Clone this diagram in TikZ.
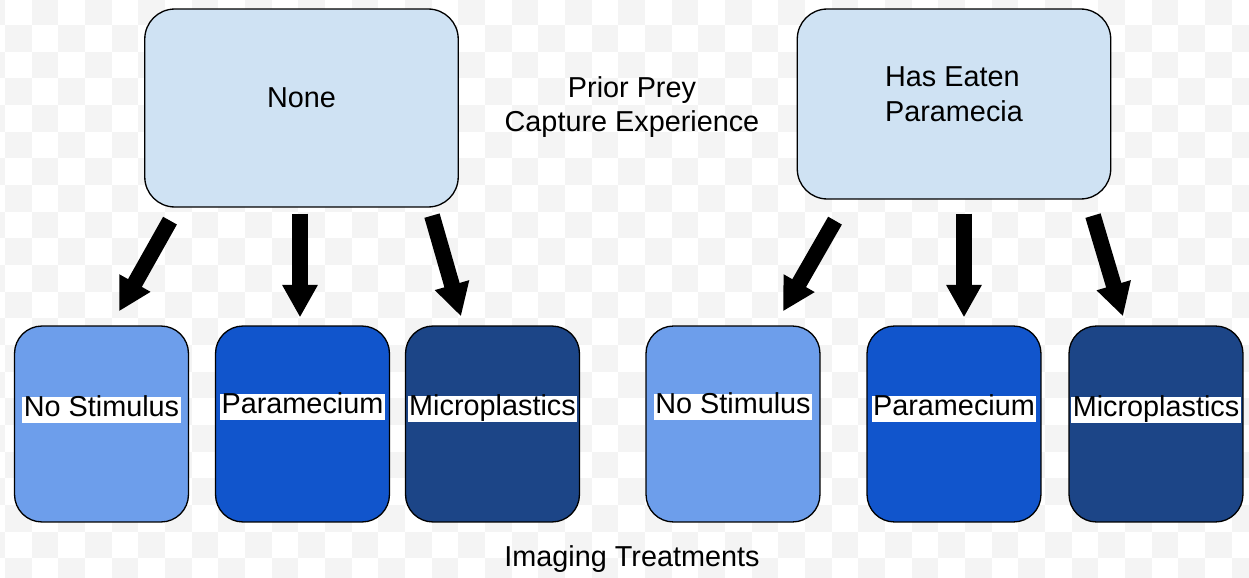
\documentclass[tikz,border=0pt]{standalone}
\usepackage{fontspec}
\setmainfont{Liberation Sans}
\usepackage{xcolor}
\definecolor{priorblue}{HTML}{CFE2F3}
\definecolor{nostimblue}{HTML}{6D9EEB}
\definecolor{paramblue}{HTML}{1155CC}
\definecolor{microblue}{HTML}{1C4587}
\definecolor{checkgray}{RGB}{244,244,244}
\usepackage{tikz}
\usetikzlibrary{arrows.meta,positioning,calc}

\begin{document}
\begin{tikzpicture}[
    x=0.02cm, y=-0.02cm,
    font=\fontsize{16.4}{19.8}\selectfont,
    prior/.style={rectangle, draw=black, line width=0.75pt, fill=priorblue, rounded corners=0.6cm, minimum width=6.27cm, align=left, text depth=0.4cm},
    treat/.style={rectangle, draw=black, line width=0.75pt, rounded corners=0.55cm, minimum width=3.48cm, minimum height=3.92cm},
    tag/.style={rectangle, fill=white, inner xsep=0.8pt, inner ysep=1.2pt, text height=0.98em, text depth=0.24em},
    caption/.style={align=center, text depth=0pt},
    bigarrow/.style={-{Triangle[length=18.5pt,width=19pt]}, line width=9pt, black}
]
\useasboundingbox (0,0) rectangle (1249,578);

% Checkered background
\begin{scope}
\clip (0,0) rectangle (1249,578);
\foreach \i in {-1,...,46} {
  \foreach \j in {0,...,22} {
    \pgfmathtruncatemacro\odd{mod(\i+\j+2,2)}
    \ifnum\odd=1
      \fill[checkgray] (5+26.67*\i,-1.7+26.67*\j) rectangle ++(26.67,26.67);
    \fi
  }
}
\end{scope}

% Prior experience
\node[prior, minimum height=3.96cm] (none) at (301.5,108) {None};
\node[prior, minimum height=3.8cm] (eaten) at (954,104) {Has Eaten\\Paramecia};
\node[caption] (prior) at (632,104) {Prior Prey\\Capture Experience};

% Treatments, left group
\node[treat, fill=nostimblue] (nsL) at (101.5,424) {};
\node[treat, fill=paramblue] (parL) at (302.5,424) {};
\node[treat, fill=microblue] (micL) at (492.5,424) {};

% Treatments, right group
\node[treat, fill=nostimblue] (nsR) at (733,424) {};
\node[treat, fill=paramblue] (parR) at (954,424) {};
\node[treat, fill=microblue] (micR) at (1156,424) {};

% Tags
\node[tag] (nsLt) at ($(nsL)+(0,-14)$) {No Stimulus};
\node[tag] (parLt) at ($(parL)+(0,-17)$) {Paramecium};
\node[tag] (micLt) at ($(micL)+(0,-15)$) {Microplastics};
\node[tag] (nsRt) at ($(nsR)+(0,-17)$) {No Stimulus};
\node[tag] (parRt) at ($(parR)+(0,-15)$) {Paramecium};
\node[tag] (micRt) at ($(micR)+(0,-14)$) {Microplastics};

\node[caption] (imaging) at (632,556) {Imaging Treatments};

% Arrows
\draw[bigarrow] ($(none.south)+(-131.5,13)$) -- ($(nsL.north)+(17.5,-14)$);
\draw[bigarrow] ($(none.south)+(-1.5,6)$) -- ($(parL.north)+(-2.5,-8)$);
\draw[bigarrow] ($(none.south)+(130.5,8)$) -- ($(micL.north)+(-31.5,-9)$);
\draw[bigarrow] ($(eaten.south)+(-119,21)$) -- ($(nsR.north)+(50,-14)$);
\draw[bigarrow] ($(eaten.south)+(10,14)$) -- ($(parR.north)+(10,-8)$);
\draw[bigarrow] ($(eaten.south)+(139,16)$) -- ($(micR.north)+(-33,-9)$);
\end{tikzpicture}
\end{document}
